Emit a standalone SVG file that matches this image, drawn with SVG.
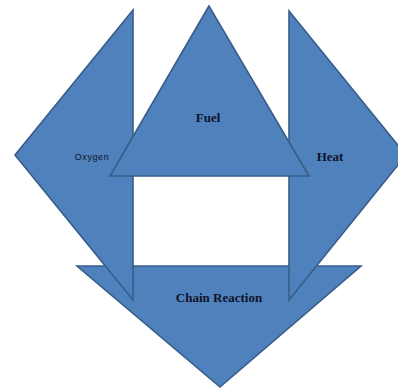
<svg xmlns="http://www.w3.org/2000/svg" width="398" height="389" viewBox="0 0 398 389">
<style>
.tri{fill:#4F81BD;stroke:#385D8A;stroke-width:1.6;stroke-linejoin:miter}
.lbl{font-family:"Liberation Serif",serif;font-weight:bold;font-size:13px;fill:#10142a;text-anchor:middle}
.sm{font-family:"Liberation Sans",sans-serif;font-size:9px;fill:#10142a;text-anchor:middle;letter-spacing:0.6px}
</style>
<rect width="398" height="389" fill="#ffffff"/>
<g id="chain"><polygon class="tri" points="77,266 361,266 220,387"/></g>
<g id="oxygen"><polygon class="tri" points="133,10 15,155 133,300"/></g>
<g id="heat"><polygon class="tri" points="289,11 406,155 289,300"/></g>
<g id="fuel"><polygon class="tri" points="209,6 110,176 309,176"/></g>
<g id="labels">
<text class="sm" x="92" y="160">Oxygen</text>
<text class="lbl" x="208" y="122">Fuel</text>
<text class="lbl" x="330" y="161">Heat</text>
<text class="lbl" x="219" y="302">Chain Reaction</text>
</g>
<g id="connectors"></g>
</svg>
